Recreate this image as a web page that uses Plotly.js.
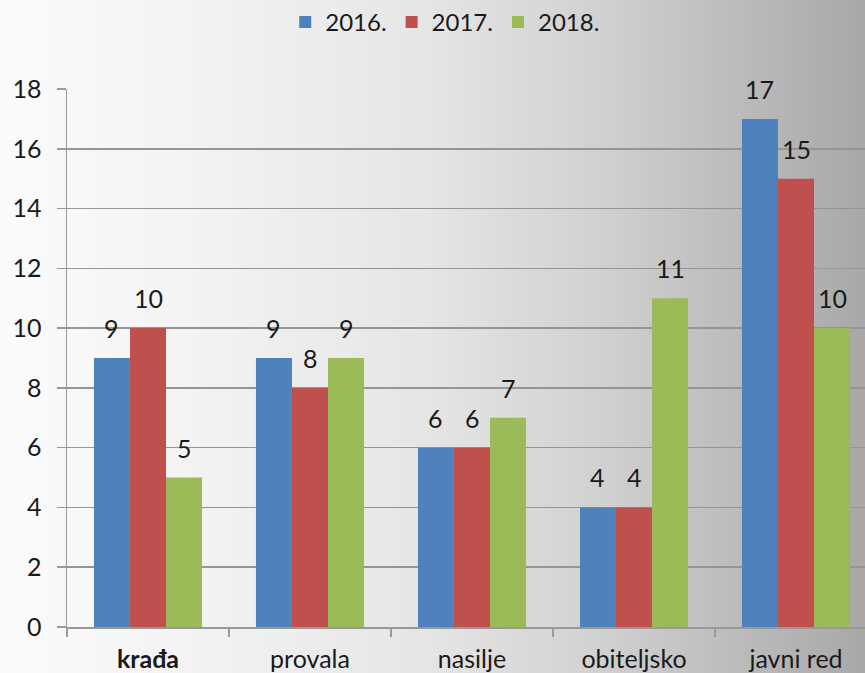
<!DOCTYPE html>
<html>
<head>
<meta charset="utf-8">
<script src="https://cdn.plot.ly/plotly-3.0.1.min.js"></script>
<style>
html, body { margin:0; padding:0; width:865px; height:673px; overflow:hidden; }
body { background: linear-gradient(to right, #fbfbfb 0%, #f2f2f2 25%, #e5e5e5 50%, #d0d0d0 70%, #a8a8a8 100%); }
#chart { width:865px; height:673px; }
</style>
</head>
<body>
<div id="chart"></div>
<script>
var categories = ["krađa", "provala", "nasilje", "obiteljsko", "javni red"];
var seriesNames = ["2016.", "2017.", "2018."];
var values2016 = [9, 9, 6, 4, 17];
var values2017 = [10, 8, 6, 4, 15];
var values2018 = [5, 9, 7, 11, 10];
var yTicks = [0, 2, 4, 6, 8, 10, 12, 14, 16, 18];
var colors = ["#4F81BD", "#C0504D", "#9BBB59"];

var allValues = [values2016, values2017, values2018];
var bargap = 0.333;
var barW = (1 - bargap) / allValues.length;
var FONT = "Lato, 'Open Sans', sans-serif";

var traces = allValues.map(function (vals, s) {
  return {
    type: "bar",
    name: seriesNames[s],
    x: categories,
    y: vals,
    marker: { color: colors[s], line: { width: 0 } },
    hoverinfo: "x+y+name"
  };
});

var annotations = [];
allValues.forEach(function (vals, s) {
  vals.forEach(function (v, i) {
    annotations.push({
      xref: "x", yref: "y",
      x: i + (s - (allValues.length - 1) / 2) * barW,
      y: v,
      text: String(v),
      showarrow: false,
      yanchor: "bottom",
      yshift: 13,
      font: { family: FONT, size: 25, color: "#1a1a1a" }
    });
  });
});

var tickText = categories.map(function (c, i) {
  return i === 0 ? "<b>" + c + "</b>" : c;
});

var layout = {
  width: 865,
  height: 673,
  margin: { l: 67, r: 0, t: 89, b: 46 },
  paper_bgcolor: "rgba(0,0,0,0)",
  plot_bgcolor: "rgba(0,0,0,0)",
  barmode: "group",
  bargap: bargap,
  bargroupgap: 0,
  showlegend: true,
  legend: {
    orientation: "h",
    x: 0.474, xanchor: "center",
    y: 1.1245, yanchor: "middle",
    font: { family: FONT, size: 24, color: "#1a1a1a" },
    bgcolor: "rgba(0,0,0,0)",
    itemwidth: 30,
    tracegroupgap: 0
  },
  xaxis: {
    type: "category",
    range: [-0.5, -0.5 + 798 / 162],
    tickmode: "array",
    tickvals: categories,
    ticktext: tickText,
    tickson: "boundaries",
    ticks: "outside",
    ticklen: 8,
    tickcolor: "#999999",
    tickwidth: 1.5,
    showline: true,
    linecolor: "#999999",
    linewidth: 1.5,
    showgrid: false,
    ticklabelstandoff: 9,
    tickfont: { family: FONT, size: 25, color: "#1a1a1a" },
    fixedrange: true
  },
  yaxis: {
    range: [0, 18],
    tickmode: "array",
    tickvals: yTicks,
    ticks: "outside",
    ticklen: 9,
    tickcolor: "#999999",
    tickwidth: 1.5,
    showline: true,
    linecolor: "#999999",
    linewidth: 1.5,
    showgrid: true,
    gridcolor: "#959595",
    gridwidth: 1.6,
    zeroline: false,
    ticklabelstandoff: 10,
    tickfont: { family: FONT, size: 25, color: "#1a1a1a" },
    fixedrange: true
  },
  annotations: annotations
};

Plotly.newPlot("chart", traces, layout, { displayModeBar: false, staticPlot: true });
</script>
</body>
</html>
